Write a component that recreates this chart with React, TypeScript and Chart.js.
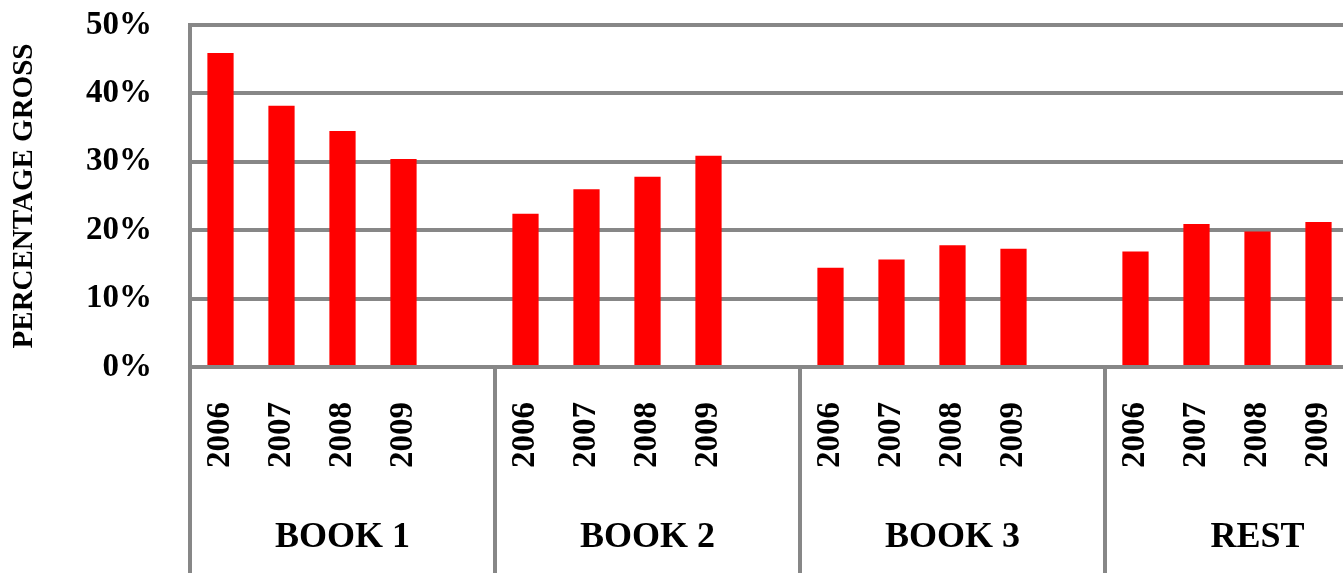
import React, { useEffect, useRef } from 'react';
import { Chart, registerables } from 'chart.js';

Chart.register(...registerables);

const years = ['2006', '2007', '2008', '2009'];
const groups = ['BOOK 1', 'BOOK 2', 'BOOK 3', 'REST'];
const book1 = [45.9, 38.2, 34.5, 30.4];
const book2 = [22.4, 26.0, 27.8, 30.9];
const book3 = [14.5, 15.7, 17.8, 17.3];
const rest = [16.9, 20.9, 19.8, 21.2];
const yMin = 0;
const yMax = 50;
const yStep = 10;
const yTitle = 'PERCENTAGE GROSS';

const GRAY = '#878787';
const FONT = "'Times New Roman', 'Liberation Serif', serif";

const noPad = (s: any) => {
  s.paddingTop = 0;
  s.paddingBottom = 0;
  s.paddingLeft = 0;
  s.paddingRight = 0;
};

export default function App() {
  const ref = useRef<HTMLCanvasElement>(null);

  useEffect(() => {
    document.body.style.margin = '0';
    document.body.style.overflow = 'hidden';

    const seriesByGroup = [book1, book2, book3, rest];
    const labels: string[] = [];
    const data: (number | null)[] = [];
    seriesByGroup.forEach((s) => {
      years.forEach((y, i) => {
        labels.push(y);
        data.push(s[i]);
      });
      labels.push('');
      data.push(null);
    });

    const dividers = {
      id: 'dividers',
      afterDraw(chart: any) {
        const x2 = chart.scales.x2;
        const ctx = chart.ctx;
        const step = (x2.right - x2.left) / groups.length;
        ctx.save();
        ctx.strokeStyle = GRAY;
        ctx.lineWidth = 4;
        for (let k = 0; k < groups.length; k++) {
          const x = x2.left + k * step;
          ctx.beginPath();
          ctx.moveTo(x, chart.chartArea.bottom);
          ctx.lineTo(x, chart.height);
          ctx.stroke();
        }
        ctx.restore();
      },
    };

    const chart = new Chart(ref.current!, {
      type: 'bar',
      data: {
        labels,
        datasets: [
          {
            data,
            backgroundColor: '#FF0000',
            borderWidth: 0,
            categoryPercentage: 1,
            barPercentage: 0.43,
            xAxisID: 'x',
            yAxisID: 'y',
          },
        ],
      },
      options: {
        responsive: false,
        animation: false,
        devicePixelRatio: 1,
        layout: { padding: { top: 25, right: 20, bottom: 0, left: 0 } },
        plugins: {
          legend: { display: false },
          tooltip: { enabled: false },
          title: { display: false },
        },
        scales: {
          y: {
            min: yMin,
            max: yMax,
            ticks: {
              stepSize: yStep,
              padding: 38,
              color: '#000',
              font: { family: FONT, size: 33, weight: 'bold' },
              callback: (v: any) => v + '%',
            },
            grid: { color: GRAY, lineWidth: 4, drawTicks: false },
            border: { display: true, color: GRAY, width: 4 },
            title: {
              display: true,
              text: yTitle,
              color: '#000',
              font: { family: FONT, size: 29, weight: 'bold' },
              padding: { top: 7, bottom: 0 },
            },
            afterFit: (s: any) => {
              s.width = 190;
              noPad(s);
            },
          },
          x: {
            position: 'bottom',
            weight: 0,
            grid: { display: false, drawTicks: false },
            border: { display: false },
            ticks: {
              autoSkip: false,
              minRotation: 90,
              maxRotation: 90,
              padding: 35,
              color: '#000',
              font: { family: FONT, size: 33, weight: 'bold' },
            },
            afterFit: (s: any) => {
              s.height = 120;
              noPad(s);
            },
          },
          x2: {
            type: 'category',
            labels: groups,
            position: 'bottom',
            weight: 1,
            offset: true,
            grid: { display: false, drawTicks: false },
            border: { display: false },
            ticks: {
              autoSkip: false,
              maxRotation: 0,
              padding: 29,
              color: '#000',
              font: { family: FONT, size: 36, weight: 'bold' },
            },
            afterFit: (s: any) => {
              s.height = 86;
              noPad(s);
            },
          },
        },
      } as any,
      plugins: [dividers],
    });

    return () => chart.destroy();
  }, []);

  return (
    <div style={{ position: 'absolute', left: 0, top: 0 }}>
      <canvas ref={ref} width={1430} height={573} style={{ display: 'block' }} />
    </div>
  );
}
